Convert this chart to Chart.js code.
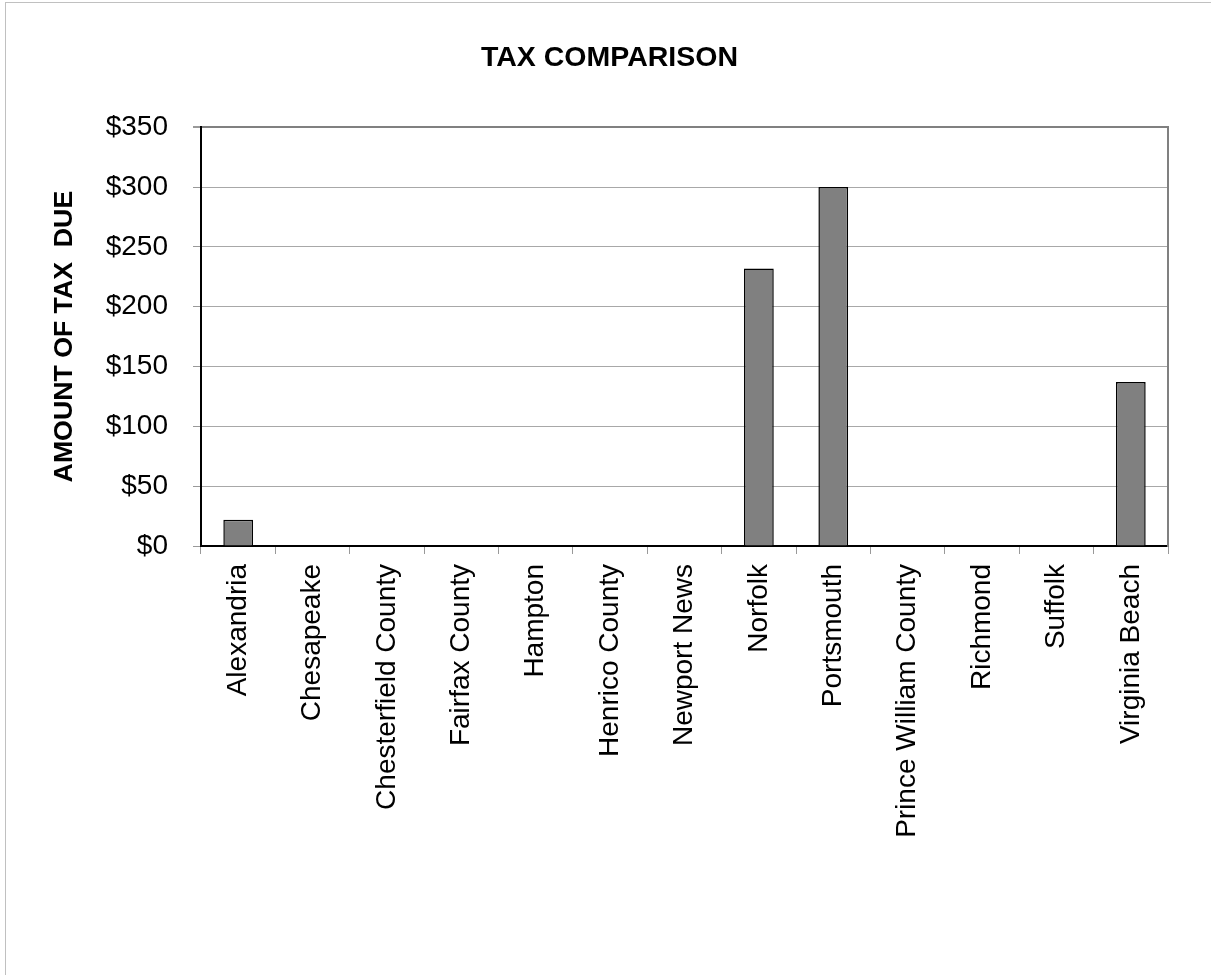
<!DOCTYPE html>
<html>
<head>
  <title>Tax Comparison</title>
  <script src="https://cdn.jsdelivr.net/npm/chart.js"></script>
  <style>
    body {
      margin: 0;
      background: #fff;
      overflow: hidden;
    }
    #frame {
      position: absolute;
      left: 5px;
      top: 2px;
      width: 1206px;
      height: 973px;
      border-top: 1px solid #c0c0c0;
      border-left: 1px solid #c0c0c0;
    }
    #chartBox {
      position: absolute;
      left: 0;
      top: 0;
      width: 1211px;
      height: 975px;
    }
  </style>
</head>
<body>
  <div id="frame"></div>
  <div id="chartBox"><canvas id="taxChart"></canvas></div>

  <script>
    const localities = ['Alexandria', 'Chesapeake', 'Chesterfield County', 'Fairfax County',
      'Hampton', 'Henrico County', 'Newport News', 'Norfolk', 'Portsmouth',
      'Prince William County', 'Richmond', 'Suffolk', 'Virginia Beach'];
    const taxDue = [22, 0, 0, 0, 0, 0, 0, 232, 300, 0, 0, 0, 137];
    const yTicks = [0, 50, 100, 150, 200, 250, 300, 350];

    const fontFamily = '"Liberation Sans", Arial, sans-serif';

    const ctx = document.getElementById('taxChart').getContext('2d');
    new Chart(ctx, {
      type: 'bar',
      data: {
        labels: localities,
        datasets: [{
          label: 'Amount of tax due',
          data: taxDue,
          backgroundColor: '#808080',
          borderColor: '#000000',
          borderWidth: 1.5,
          categoryPercentage: 1,
          barPercentage: 0.4
        }]
      },
      options: {
        responsive: true,
        maintainAspectRatio: false,
        animation: false,
        layout: { padding: { left: 8, right: 0, top: 0, bottom: 0 } },
        plugins: {
          legend: { display: false },
          tooltip: { enabled: false },
          title: {
            display: true,
            text: 'TAX COMPARISON',
            color: '#000',
            font: { family: fontFamily, size: 28.5, weight: 'bold' },
            padding: { top: 41, bottom: 52 }
          }
        },
        scales: {
          x: {
            offset: true,
            grid: {
              offset: true,
              drawOnChartArea: false,
              drawTicks: true,
              tickLength: 8,
              tickColor: '#999999'
            },
            border: { color: '#000', width: 2 },
            ticks: {
              color: '#000',
              autoSkip: false,
              minRotation: 90,
              maxRotation: 90,
              padding: 10,
              font: { family: fontFamily, size: 28 }
            },
            afterFit: (scale) => { scale.height = 429; }
          },
          y: {
            min: 0,
            max: 350,
            afterBuildTicks: (scale) => { scale.ticks = yTicks.map(v => ({ value: v })); },
            grid: {
              color: (c) => c.tick && c.tick.value === 350 ? '#808080' : '#a8a8a8',
              lineWidth: (c) => c.tick && c.tick.value === 350 ? 2 : 1,
              tickLength: 8,
              tickColor: '#999999'
            },
            border: { color: '#000', width: 2 },
            ticks: {
              color: '#000',
              padding: 25,
              font: { family: fontFamily, size: 28 },
              callback: (v) => '$' + v
            },
            title: {
              display: true,
              text: 'AMOUNT OF TAX  DUE',
              color: '#000',
              font: { family: fontFamily, size: 26.7, weight: 'bold' },
              padding: { top: 41, bottom: 0 }
            },
            afterFit: (scale) => { scale.width = 193; }
          },
          yRight: {
            position: 'right',
            min: 0,
            max: 350,
            grid: { drawOnChartArea: false, drawTicks: false },
            border: { color: '#808080', width: 2 },
            ticks: { display: false },
            afterFit: (scale) => { scale.width = 43; }
          }
        }
      }
    });
  </script>
</body>
</html>
